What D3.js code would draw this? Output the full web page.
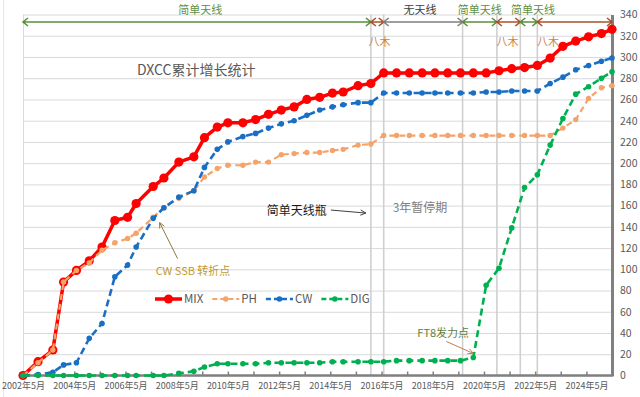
<!DOCTYPE html>
<html>
<head>
<meta charset="utf-8">
<script src="https://cdn.jsdelivr.net/npm/d3@7"></script>
<style>
  body { margin: 0; background: #fff; }
  svg { display: block; font-family: "Noto Sans CJK SC", "Noto Sans", sans-serif; }
</style>
</head>
<body>
<div id="chart"></div>
<script>
// sample dates (roughly every half year)
var dates = ["2002-05","2002-12","2003-07","2003-12","2004-06","2004-12","2005-06","2005-12","2006-06","2006-10",
  "2007-06","2007-11","2008-06","2009-01","2009-06","2009-12","2010-05","2010-12","2011-06","2011-12",
  "2012-06","2012-12","2013-06","2013-12","2014-06","2014-11","2015-06","2015-12","2016-06","2016-12",
  "2017-06","2017-12","2018-06","2018-12","2019-06","2019-12","2020-06","2020-12","2021-06","2021-12",
  "2022-06","2022-12","2023-06","2023-12","2024-06","2024-12","2025-05"];

var mix = [0,13,24,88,99,108,121,146,149,162,
  178,186,201,206,224,234,238,238,241,246,
  250,253,260,262,266,267,273,275,285,285,
  285,285,285,285,285,285,285,287,289,290,
  292,299,310,315,319,322,326];

var ph = [0,12,24,88,99,106,118,125,129,134,
  149,158,167,174,187,195,198,198,201,201,
  208,209,210,210,212,213,217,218,226,226,
  226,226,226,226,226,226,226,226,226,226,
  226,226,233,241,261,271,273];

var cw = [0,1,3,10,12,35,49,93,104,121,
  148,158,168,174,196,213,220,225,228,233,
  237,240,245,250,253,255,257,257,266,266,
  266,266,266,266,266,266,267,267,268,268,
  268,275,281,288,292,296,299];

var dig = [0,0,0,0,0,0,0,0,0,0,
  0,0,2,4,8,11,11,11,11,12,
  12,12,12,12,13,13,13,13,13,14,
  14,14,14,14,14,17,85,101,139,177,
  189,217,242,265,272,280,286];

var seriesNames = ["MIX", "PH", "CW", "DIG"];
var yTicks = d3.range(0, 341, 20);
var xLabelDates = ["2002-05","2004-05","2006-05","2008-05","2010-05","2012-05","2014-05","2016-05","2018-05","2020-05","2022-05","2024-05"];

// antenna periods along the top
var periodBounds = ["2002-05","2015-12","2016-06","2019-07","2020-11","2021-10","2022-06","2025-05"];
var periodLabels = ["简单天线","八木","无天线","简单天线","八木","简单天线","八木"];
var periodKinds = ["simple","yagi","none","simple","yagi","simple","yagi"];
var periodLabelDates = ["2009-04","2016-04","2017-11","2020-03","2021-04","2022-04","2022-11"];

var parse = d3.timeParse("%Y-%m");
var W = 640, H = 397;
var pLeft = 23, pRight = 612, pTop = 14.5, pBottom = 375.5;

var x = d3.scaleTime().domain([parse("2002-05"), parse("2025-05")]).range([pLeft, pRight]);
var y = d3.scaleLinear().domain([0, 340]).range([pBottom, pTop]);

var svg = d3.select("#chart").append("svg")
    .attr("width", W)
    .attr("height", H);

// faint frame line on the far left
svg.append("line").attr("x1", 3.5).attr("x2", 3.5).attr("y1", 0).attr("y2", H)
    .style("stroke", "#e6e6e6");

// horizontal gridlines
var grid = svg.append("g")
    .attr("transform", "translate(" + pRight + ",0)")
    .call(d3.axisRight(y).tickValues(yTicks).tickSize(-(pRight - pLeft)).tickFormat(""))
grid.select(".domain").remove()
grid.selectAll("line").style("stroke", "#d9d9d9")

// plot left border
svg.append("line").attr("x1", pLeft + 0.5).attr("x2", pLeft + 0.5).attr("y1", pTop).attr("y2", pBottom)
    .style("stroke", "#d9d9d9");

// period separators
var sepDates = periodBounds.slice(1, -1);
svg.append("g").selectAll("line")
    .data(sepDates)
    .enter()
    .append("line")
    .attr("x1", function (d) { return x(parse(d)); })
    .attr("x2", function (d) { return x(parse(d)); })
    .attr("y1", pTop)
    .attr("y2", pBottom)
    .style("stroke", "#d0d0d0")
    .style("stroke-width", 1.6);

// bottom axis: yearly minor ticks + labels every two years
var yearly = d3.timeMonth.range(parse("2003-05"), parse("2025-05"), 12);
var minor = svg.append("g")
    .attr("transform", "translate(0," + pBottom + ")")
    .call(d3.axisBottom(x).tickValues(yearly).tickSize(-4).tickFormat(""))
minor.select(".domain").remove()
minor.selectAll("line").style("stroke", "#808080").style("stroke-width", 1.5)

var xAxis = svg.append("g")
    .attr("transform", "translate(0," + pBottom + ")")
    .call(d3.axisBottom(x)
        .tickValues(xLabelDates.map(parse))
        .tickSize(0)
        .tickPadding(7)
        .tickFormat(function (d) { return d.getFullYear() + "年" + (d.getMonth() + 1) + "月"; }))
xAxis.select(".domain").remove()
xAxis.selectAll("text")
    .style("font-family", "Noto Sans CJK SC")
    .style("font-size", "9px")
    .style("fill", "#595959")

svg.append("line")
    .attr("x1", pLeft).attr("x2", pRight + 1.5)
    .attr("y1", pBottom).attr("y2", pBottom)
    .style("stroke", "#808080")
    .style("stroke-width", 2.5);

// right axis
var yAxis = svg.append("g")
    .attr("transform", "translate(" + pRight + ",0)")
    .call(d3.axisRight(y).tickValues(yTicks).tickSize(0).tickPadding(8))
yAxis.select(".domain")
    .style("stroke", "#808080")
    .style("stroke-width", 3)
yAxis.selectAll("text")
    .style("font-family", "Noto Sans CJK SC")
    .style("font-size", "10.5px")
    .style("fill", "#595959")

// series
var styles = {
    MIX: {color: "#ff0000", width: 3.5, dash: null, r: 4.6},
    PH: {color: "#f4a36a", width: 2.2, dash: "6,4", r: 2.7},
    CW: {color: "#1a6fc4", width: 2.6, dash: "7,4", r: 2.8},
    DIG: {color: "#00b050", width: 2.6, dash: "7,4", r: 2.8}
};
var seriesData = [mix, ph, cw, dig].map(function (vals, i) {
    return {
        key: seriesNames[i],
        values: vals.map(function (v, j) { return {date: parse(dates[j]), v: v}; })
    };
});

var line = d3.line()
    .x(function (d) { return x(d.date); })
    .y(function (d) { return y(d.v); })

var layers = svg.append("g")
    .selectAll("g")
    .data(seriesData)
    .enter()
    .append("g")

layers.append("path")
    .attr("d", function (d) { return line(d.values); })
    .style("fill", "none")
    .style("stroke", function (d) { return styles[d.key].color; })
    .style("stroke-width", function (d) { return styles[d.key].width; })
    .style("stroke-dasharray", function (d) { return styles[d.key].dash; })
    .style("stroke-linejoin", "round")

layers.selectAll("circle")
    .data(function (d) { return d.values.map(function (p) { return {p: p, key: d.key}; }); })
    .enter()
    .append("circle")
    .attr("cx", function (d) { return x(d.p.date); })
    .attr("cy", function (d) { return y(d.p.v); })
    .attr("r", function (d) { return styles[d.key].r; })
    .style("fill", function (d) { return styles[d.key].color; })

// legend
var legend = svg.append("g").attr("transform", "translate(155,299)");
var lx = 0;
seriesNames.forEach(function (name) {
    var st = styles[name];
    var g = legend.append("g").attr("transform", "translate(" + lx + ",0)");
    g.append("line").attr("x1", 0).attr("x2", 27).attr("y1", 0).attr("y2", 0)
        .style("stroke", st.color).style("stroke-width", st.width)
        .style("stroke-dasharray", st.dash ? "5,3" : null);
    g.append("circle").attr("cx", 13.5).attr("cy", 0).attr("r", st.r).style("fill", st.color);
    var t = g.append("text").attr("x", 29).attr("y", 4)
        .text(name)
        .style("font-size", "11.5px")
        .style("fill", "#595959");
    lx += 29 + t.node().getComputedTextLength() + 9;
});

// chart title
svg.append("text")
    .attr("x", 137).attr("y", 75)
    .text("DXCC累计增长统计")
    .style("font-size", "14px")
    .style("fill", "#595959");

// top period arrows
var kindColor = {simple: "#5b8e3c", yagi: "#a8532a", none: "#808080"};
var kindText = {simple: "#5f8f44", yagi: "#d08248", none: "#404040"};
var arrowY = 22;
var periods = periodLabels.map(function (lab, i) {
    return {label: lab, kind: periodKinds[i], a: parse(periodBounds[i]), b: parse(periodBounds[i + 1]), at: parse(periodLabelDates[i])};
});
var pg = svg.append("g").selectAll("g").data(periods).enter().append("g");
pg.append("path")
    .attr("d", function (d) {
        var x1 = x(d.a), x2 = x(d.b), h = 5, v = 4;
        return "M" + x1 + "," + arrowY + "L" + x2 + "," + arrowY +
            "M" + (x1 + h) + "," + (arrowY - v) + "L" + x1 + "," + arrowY + "L" + (x1 + h) + "," + (arrowY + v) +
            "M" + (x2 - h) + "," + (arrowY - v) + "L" + x2 + "," + arrowY + "L" + (x2 - h) + "," + (arrowY + v);
    })
    .style("fill", "none")
    .style("stroke", function (d) { return kindColor[d.kind]; })
    .style("stroke-width", 1.6)
pg.append("text")
    .attr("x", function (d) { return x(d.at); })
    .attr("y", function (d) { return d.kind === "yagi" ? 46 : 14; })
    .attr("text-anchor", "middle")
    .text(function (d) { return d.label; })
    .style("font-size", "11px")
    .style("fill", function (d) { return kindText[d.kind]; })

// annotations
function arrow(x1, y1, x2, y2, color) {
    var ang = Math.atan2(y2 - y1, x2 - x1), h = 6, s = 0.45;
    svg.append("path")
        .attr("d", "M" + x1 + "," + y1 + "L" + x2 + "," + y2 +
            "M" + (x2 - h * Math.cos(ang - s)) + "," + (y2 - h * Math.sin(ang - s)) +
            "L" + x2 + "," + y2 +
            "L" + (x2 - h * Math.cos(ang + s)) + "," + (y2 - h * Math.sin(ang + s)))
        .style("fill", "none")
        .style("stroke", color)
        .style("stroke-width", 1);
}

// CW / SSB crossing
var cross = {date: parse("2007-09"), v: 144};
arrow(x(cross.date) + 18, y(cross.v) + 36, x(cross.date), y(cross.v), "#8c7a3c");
svg.append("text")
    .attr("x", x(cross.date) - 4).attr("y", y(cross.v) + 52)
    .text("CW SSB 转折点")
    .style("font-size", "11px")
    .style("fill", "#bf9a30");

// simple antenna bottleneck
var neck = {date: parse("2015-12"), v: 153};
arrow(x(neck.date) - 40, y(neck.v) - 3, x(neck.date) - 5, y(neck.v), "#404040");
svg.append("text")
    .attr("x", x(neck.date) - 44).attr("y", y(neck.v) + 2)
    .attr("text-anchor", "end")
    .text("简单天线瓶")
    .style("font-size", "12px")
    .style("fill", "#1a1a1a");

// pause
var pause = {date: parse("2017-11"), v: 158};
svg.append("text")
    .attr("x", x(pause.date)).attr("y", y(pause.v) + 4)
    .attr("text-anchor", "middle")
    .text("3年暂停期")
    .style("font-size", "12px")
    .style("fill", "#808080");

// FT8 point
var ft8 = {date: parse(dates[35]), v: dig[35]};
arrow(x(ft8.date) - 27, y(ft8.v) - 16, x(ft8.date), y(ft8.v) - 4, "#c08050");
svg.append("text")
    .attr("x", x(ft8.date) - 56).attr("y", y(ft8.v) - 20)
    .text("FT8发力点")
    .style("font-size", "11px")
    .style("fill", "#5f7f3f");
</script>
</body>
</html>
